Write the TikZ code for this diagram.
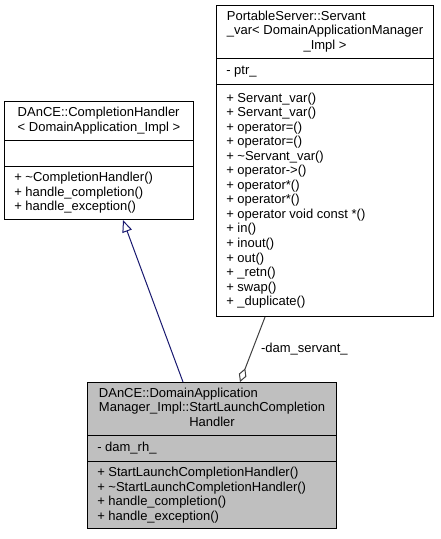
\documentclass[tikz,border=0pt]{standalone}
\usepackage{fontspec}
\setmainfont{Liberation Sans}
\usetikzlibrary{arrows.meta}

\definecolor{edgeblue}{RGB}{25,25,112}
\definecolor{edgegrey}{RGB}{64,64,64}
\definecolor{nodegrey}{RGB}{191,191,191}

\newcommand{\lastline}[1]{\multicolumn{1}{@{}c@{}}{#1}}

\tikzset{
  compartment/.style={draw=black, line width=0.8pt, fill=white, anchor=north west, inner sep=0pt},
  member/.style={anchor=west, align=left, inner sep=0pt, font=\fontsize{9.75}{10.9}\selectfont},
  classname/.style={anchor=center, inner sep=0pt, font=\fontsize{9.75}{10.9}\selectfont},
  inherit/.style={draw=edgeblue, line width=0.75pt, -{Triangle[open, length=9pt, width=7.5pt]}},
  aggregate/.style={draw=edgegrey, line width=0.75pt, -{Diamond[open, length=11pt, width=6pt]}},
}

\begin{document}
\begin{tikzpicture}[x=0.75pt,y=0.75pt,yscale=-1,xscale=1]
\path[fill=white] (0,0) rectangle (440,539);

% Class: DAnCE::CompletionHandler
\node[compartment, minimum width=141.75pt, minimum height=29.25pt] (chName) at (4,101) {};
\node[compartment, minimum width=141.75pt, minimum height=19.5pt] (chAttr) at (4,140) {};
\node[compartment, minimum width=141.75pt, minimum height=39.75pt] (chOps) at (4,166) {};
% Text Node
\node[classname] (chNameText) at (chName.center) {\begin{tabular}{@{}l@{}}DAnCE::CompletionHandler\\\lastline{< DomainApplication\_Impl >}\end{tabular}};
% Text Node
\node[member] (chOpsText) at ([xshift=7.5pt]chOps.west) {+ \textasciitilde CompletionHandler()\\+ handle\_completion()\\+ handle\_exception()};

% Class: PortableServer::Servant_var
\node[compartment, minimum width=162.75pt, minimum height=39.75pt] (svName) at (216,5) {};
\node[compartment, minimum width=162.75pt, minimum height=19.5pt] (svAttr) at (216,58) {};
\node[compartment, minimum width=162.75pt, minimum height=174pt] (svOps) at (216,84) {};
% Text Node
\node[classname] (svNameText) at (svName.center) {\begin{tabular}{@{}l@{}}PortableServer::Servant\\\_var< DomainApplicationManager\\\lastline{\_Impl >}\end{tabular}};
% Text Node
\node[member] (svAttrText) at ([xshift=7.5pt]svAttr.west) {- ptr\_};
% Text Node
\node[member] (svOpsText) at ([xshift=7.5pt]svOps.west) {+ Servant\_var()\\+ Servant\_var()\\+ operator=()\\+ operator=()\\+ \textasciitilde Servant\_var()\\+ operator->()\\+ operator*()\\+ operator*()\\+ operator void const *()\\+ in()\\+ inout()\\+ out()\\+ \_retn()\\+ swap()\\+ \_duplicate()};

% Class: DAnCE::DomainApplicationManager_Impl::StartLaunchCompletionHandler
\node[compartment, fill=nodegrey, minimum width=186.75pt, minimum height=39.75pt] (slchName) at (87,382) {};
\node[compartment, fill=nodegrey, minimum width=186.75pt, minimum height=19.5pt] (slchAttr) at (87,435) {};
\node[compartment, fill=nodegrey, minimum width=186.75pt, minimum height=50.25pt] (slchOps) at (87,461) {};
% Text Node
\node[classname] (slchNameText) at (slchName.center) {\begin{tabular}{@{}l@{}}DAnCE::DomainApplication\\Manager\_Impl::StartLaunchCompletion\\\lastline{Handler}\end{tabular}};
% Text Node
\node[member] (slchAttrText) at ([xshift=7.5pt]slchAttr.west) {- dam\_rh\_};
% Text Node
\node[member] (slchOpsText) at ([xshift=7.5pt]slchOps.west) {+ StartLaunchCompletionHandler()\\+ \textasciitilde StartLaunchCompletionHandler()\\+ handle\_completion()\\+ handle\_exception()};

%Straight Lines
\draw[inherit] ([xshift=72pt]slchName.north west) -- ([xshift=89.25pt]chOps.south west);
%Straight Lines
\draw[aggregate] ([xshift=36.75pt]svOps.south west) -- node[member, pos=0.5, xshift=6pt] (damLabel) {-dam\_servant\_} ([xshift=114.75pt]slchName.north west);

\end{tikzpicture}
\end{document}
